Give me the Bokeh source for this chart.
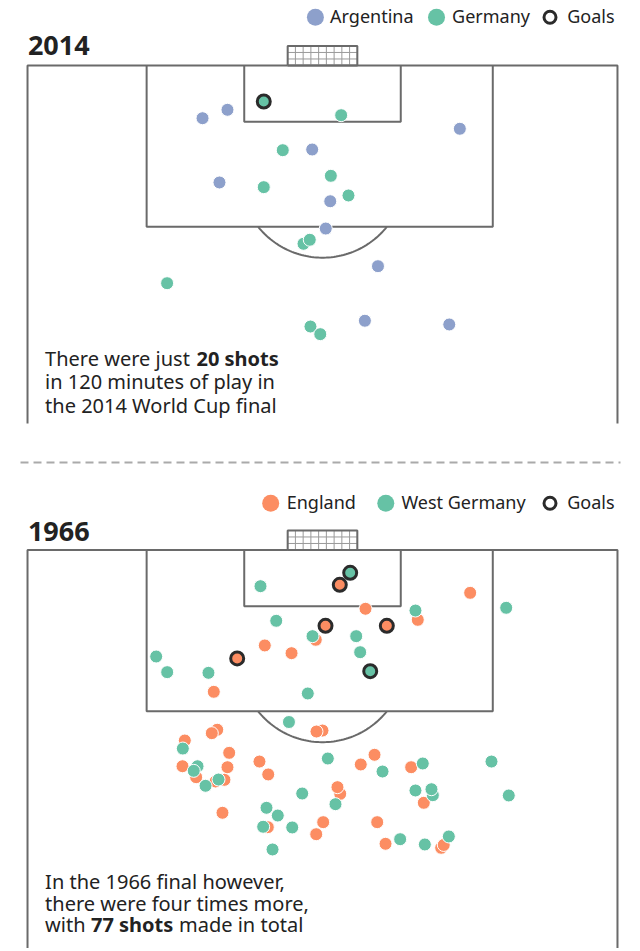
import numpy as np
from bokeh.plotting import figure
from bokeh.models import Range1d, Label
from bokeh.layouts import column
from bokeh.embed import file_html
from bokeh.resources import INLINE

# ---------------- data (metres: x across pitch from centre, y = distance from goal line)
# 2014 final
arg14_x = [-11.05, -13.95, 15.97, -1.20, -11.98, 0.90, 0.38, 6.45, 4.93, 14.74]
arg14_y = [4.53, 5.39, 6.47, 8.59, 11.96, 13.88, 16.67, 20.52, 26.10, 26.48]
ger14_x = [2.17, -4.62, 0.97, -6.83, 3.02, -2.21, -1.48, -18.07, -1.40, -0.26]
ger14_y = [5.08, 8.66, 11.28, 12.44, 13.29, 18.23, 17.82, 22.26, 26.69, 27.47]
ger14_goal_x = [-6.83]
ger14_goal_y = [3.68]

# 1966 final
eng66_x = [17.17, 5.00, 11.08, -0.78, -6.71, -3.60, -12.64, 0.00, -0.70, -12.24,
           -12.87, -16.01, -10.85, -16.28, -14.69, -11.05, -11.40, -12.44, -7.33, -6.31,
           -11.63, -6.36, 6.05, 4.45, 10.31, 2.06, 1.74, 11.78, 0.08, -0.73,
           6.36, 7.33, 13.80, 14.10]
eng66_y = [4.38, 6.01, 7.14, 9.18, 9.76, 10.55, 14.50, 18.46, 18.56, 18.38,
           18.73, 19.48, 20.74, 22.11, 23.23, 22.21, 23.50, 23.67, 21.63, 22.95,
           26.87, 28.34, 20.94, 21.93, 22.21, 24.93, 24.25, 25.85, 27.83, 29.06,
           27.83, 30.04, 30.45, 30.16]
eng66_goal_x = [2.01, 0.35, 7.48, -9.92]
eng66_goal_y = [3.56, 7.75, 7.75, 11.09]

wg66_x = [-7.21, 21.36, 10.81, -5.38, -1.16, 3.92, 4.38, -19.34, -18.06, -13.26,
          -1.71, -3.90, -16.24, -14.53, -14.97, -12.09, -13.60, -2.36, -6.51, -5.20,
          -6.90, -3.52, -5.81, 0.62, 6.98, 11.66, 10.81, 12.83, 12.67, 1.51,
          9.03, 11.90, 14.69, 19.65, 21.66]
wg66_y = [3.70, 5.91, 6.19, 7.24, 8.81, 8.81, 10.45, 10.89, 12.49, 12.56,
          14.67, 17.59, 20.30, 22.11, 22.58, 23.47, 24.11, 24.90, 26.36, 27.15,
          28.30, 28.37, 30.62, 21.32, 22.65, 21.83, 24.59, 25.07, 24.46, 25.99,
          29.57, 30.11, 29.29, 21.63, 25.10]
wg66_goal_x = [3.22, 5.55]
wg66_goal_y = [2.33, 12.39]

# ---------------- style
ARG = "#8da0cb"
GER = "#66c2a5"
ENG = "#fc8d62"
LINE = "#6a6a6a"
TXT = "#222222"
RING = "#2b2b2b"
FONT = "Noto Sans"

# pixel <-> metre mapping of the picture
SX, SY, CX = 8.6, 9.78, 322.0
W = 632
TXT_DY = 8.0   # svg text baseline correction


def X(px):
    return (px - CX) / SX


def Y(py, gl):
    return (py - gl) / SY


# pitch geometry (metres)
TOUCH = 34.3
PEN_L, PEN_R, PEN_D = -20.45, 19.8, 16.5
SIX_HW, SIX_D = 9.1, 5.75
GOAL_HW, GOAL_D = 4.05, 2.0
ARC_C, ARC_RX, ARC_RY = 11.2, 9.6, 8.45


def make_fig(height, top_py, gl):
    bottom_py = top_py + height
    p = figure(width=W, height=height,
               x_range=Range1d(X(0), X(W)),
               y_range=Range1d(Y(bottom_py, gl), Y(top_py, gl)),
               output_backend="svg", toolbar_location=None,
               x_axis_location=None, y_axis_location=None,
               min_border=0, outline_line_color=None,
               background_fill_color="white", border_fill_color="white")
    p.grid.visible = False
    return p


def draw_pitch(p, side_len):
    kw = dict(line_color=LINE, line_width=2)
    p.line([-TOUCH, -TOUCH, TOUCH, TOUCH], [side_len, 0, 0, side_len], **kw)
    p.line([PEN_L, PEN_L, PEN_R, PEN_R], [0, PEN_D, PEN_D, 0], **kw)
    p.line([-SIX_HW, -SIX_HW, SIX_HW, SIX_HW], [0, SIX_D, SIX_D, 0], **kw)
    t0 = np.arcsin((PEN_D - ARC_C) / ARC_RY)
    t = np.linspace(t0, np.pi - t0, 60)
    p.line(ARC_RX * np.cos(t), ARC_C + ARC_RY * np.sin(t), **kw)
    xs = list(np.linspace(-GOAL_HW, GOAL_HW, 10))
    ys = list(np.linspace(-GOAL_D, 0, 4))
    p.multi_line([[x, x] for x in xs], [[-GOAL_D, 0] for _ in xs],
                 line_color="#9a9a9a", line_width=1)
    p.multi_line([[-GOAL_HW, GOAL_HW] for _ in ys], [[y, y] for y in ys],
                 line_color="#9a9a9a", line_width=1)
    p.line([-GOAL_HW, -GOAL_HW, GOAL_HW, GOAL_HW, -GOAL_HW],
           [0, -GOAL_D, -GOAL_D, 0, 0], line_color=LINE, line_width=2)


def dots(p, xs, ys, color):
    p.scatter(xs, ys, size=13, fill_color=color, line_color="white", line_width=1)


def goals(p, xs, ys, color):
    p.scatter(xs, ys, size=13, fill_color=color, line_color=RING, line_width=3)


def label(p, px, py, gl, text, size="18px", bold=False):
    p.add_layout(Label(x=X(px), y=Y(py - TXT_DY, gl), text=text, text_font=FONT,
                       text_font_size=size, text_color=TXT,
                       text_font_style="bold" if bold else "normal",
                       text_baseline="alphabetic", text_align="left"))


def legend(p, gl, cy, items):
    for cx, tx, name, color in items:
        if color is None:
            p.scatter([X(cx)], [Y(cy, gl)], size=12, fill_color="white",
                      line_color=RING, line_width=3)
        else:
            p.scatter([X(cx)], [Y(cy, gl)], size=17, fill_color=color,
                      line_color=None)
        label(p, tx, cy + 6.6, gl, name, size="18px")


# ---------------- 2014
GL1 = 65.0
p1 = make_fig(470, 0, GL1)
draw_pitch(p1, Y(423, GL1))
dots(p1, arg14_x, arg14_y, ARG)
dots(p1, ger14_x, ger14_y, GER)
goals(p1, ger14_goal_x, ger14_goal_y, GER)
legend(p1, GL1, 16.7, [(314.9, 329.6, "Argentina", ARG),
                       (436.0, 451.6, "Germany", GER),
                       (549.5, 566.7, "Goals", None)])
label(p1, 27.4, 53.3, GL1, "2014", size="27px", bold=True)
label(p1, 44.6, 366.0, GL1, "There were just", size="20px")
label(p1, 196.0, 366.0, GL1, "20 shots", size="20px", bold=True)
label(p1, 44.6, 389.3, GL1, "in 120 minutes of play in", size="20px")
label(p1, 44.6, 412.6, GL1, "the 2014 World Cup final", size="20px")
p1.line([X(20), X(620)], [Y(462, GL1), Y(462, GL1)], line_color="#aaaaaa",
        line_width=2, line_dash="8 5")

# ---------------- 1966
GL2 = 549.5
p2 = make_fig(478, 470, GL2)
draw_pitch(p2, Y(960, GL2))
dots(p2, eng66_x, eng66_y, ENG)
dots(p2, wg66_x, wg66_y, GER)
goals(p2, wg66_goal_x, wg66_goal_y, GER)
goals(p2, eng66_goal_x, eng66_goal_y, ENG)
legend(p2, GL2, 502.7, [(270.2, 286.2, "England", ENG),
                        (385.3, 400.9, "West Germany", GER),
                        (549.5, 566.7, "Goals", None)])
label(p2, 27.4, 539.3, GL2, "1966", size="27px", bold=True)
label(p2, 44.6, 889.0, GL2, "In the 1966 final however,", size="20px")
label(p2, 44.6, 910.7, GL2, "there were four times more,", size="20px")
label(p2, 44.6, 932.3, GL2, "with", size="20px")
label(p2, 90.5, 932.3, GL2, "77 shots", size="20px", bold=True)
label(p2, 178.5, 932.3, GL2, "made in total", size="20px")

layout = column(p1, p2)
open("out.html", "w").write(file_html(layout, INLINE))
